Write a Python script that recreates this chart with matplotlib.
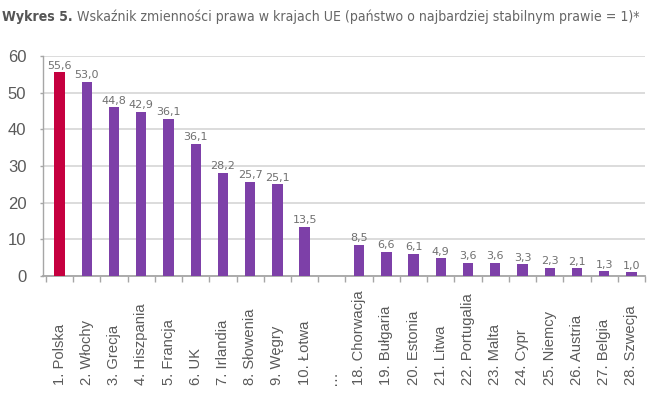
import matplotlib
matplotlib.use("Agg")
import matplotlib.pyplot as plt
import numpy as np

categories = ["1. Polska", "2. Włochy", "3. Grecja", "4. Hiszpania", "5. Francja",
              "6. UK", "7. Irlandia", "8. Słowenia", "9. Węgry", "10. Łotwa", "…",
              "18. Chorwacja", "19. Bułgaria", "20. Estonia", "21. Litwa",
              "22. Portugalia", "23. Malta", "24. Cypr", "25. Niemcy",
              "26. Austria", "27. Belgia", "28. Szwecja"]
values = [55.6, 53.0, 46.0, 44.8, 42.9, 36.1, 28.2, 25.7, 25.1, 13.5, None,
          8.5, 6.6, 6.1, 4.9, 3.6, 3.6, 3.3, 2.3, 2.1, 1.3, 1.0]
value_labels = ["55,6", "53,0", "44,8", "42,9", "36,1", "36,1", "28,2", "25,7",
                "25,1", "13,5", "", "8,5", "6,6", "6,1", "4,9", "3,6", "3,6",
                "3,3", "2,3", "2,1", "1,3", "1,0"]
yticks = [0, 10, 20, 30, 40, 50, 60]
title_bold = "Wykres 5."
title_rest = " Wskaźnik zmienności prawa w krajach UE (państwo o najbardziej stabilnym prawie = 1)*"

RED = "#C5003F"
PURPLE = "#7D40A8"
TXT = "#5A5A5A"
GRID = "#D6D6D6"
AX = "#A6A6A6"
FONT = ["Liberation Sans", "DejaVu Sans"]

fig = plt.figure(figsize=(6.6, 3.99), dpi=100)
ax = fig.add_axes([43 / 660, 123 / 399, 602 / 660, 220 / 399])

x = np.arange(len(categories))
for i, (v, lab) in enumerate(zip(values, value_labels)):
    if v is None:
        continue
    ax.bar(x[i], v, width=0.38, color=RED if i == 0 else PURPLE, zorder=3)
    ax.annotate(lab, (x[i], v), xytext=(0, 1), textcoords="offset points",
                ha="center", va="bottom", fontsize=8, color="#707070",
                family="DejaVu Sans", zorder=4)

ax.set_xlim(-0.61, len(categories) - 0.5)
ax.set_ylim(0, 60)
ax.set_yticks(yticks)
ax.set_yticklabels([str(t) for t in yticks], family=FONT, fontsize=12, color=TXT)
ax.yaxis.grid(True, color=GRID, linewidth=1.2, zorder=0)
ax.set_axisbelow(True)

ax.set_xticks(x)
ax.set_xticklabels(categories, rotation=90, fontsize=10.6, color=TXT, family=FONT)
for lbl in ax.get_xticklabels():
    lbl.set_verticalalignment("bottom")
ax.set_xticks(np.arange(-0.5, len(categories), 1.0), minor=True)
ax.tick_params(axis="x", which="major", length=0, pad=78.5)
ax.tick_params(axis="x", which="minor", length=4, width=1, color=AX)
ax.tick_params(axis="y", length=2.5, width=1, color=AX, pad=9.5)

for s in ["top", "right"]:
    ax.spines[s].set_visible(False)
ax.spines["left"].set_color(AX)
ax.spines["bottom"].set_color(AX)
ax.spines["left"].set_linewidth(1)
ax.spines["bottom"].set_linewidth(1.3)

TFONT = ["DejaVu Sans"]
ty = 1 - 17 / 399
size = 11
t1 = fig.text(2 / 660, ty, title_bold, fontsize=size, fontweight="bold",
              color="#555555", ha="left", va="center", family=TFONT,
              fontstretch="condensed")
t2 = fig.text(0, ty, title_rest, fontsize=size, color="#666666", ha="left",
              va="center", family=TFONT, fontstretch="condensed")
for _ in range(4):
    fig.canvas.draw()
    r = fig.canvas.get_renderer()
    b1 = t1.get_window_extent(r)
    t2.set_x(b1.x1 / fig.bbox.width)
    fig.canvas.draw()
    b2 = t2.get_window_extent(r)
    total = b2.x1 - b1.x0
    size = size * (638 / total)
    t1.set_fontsize(size)
    t2.set_fontsize(size)
fig.canvas.draw()
b1 = t1.get_window_extent(fig.canvas.get_renderer())
t2.set_x(b1.x1 / fig.bbox.width)

fig.savefig("out.png", dpi=100)
